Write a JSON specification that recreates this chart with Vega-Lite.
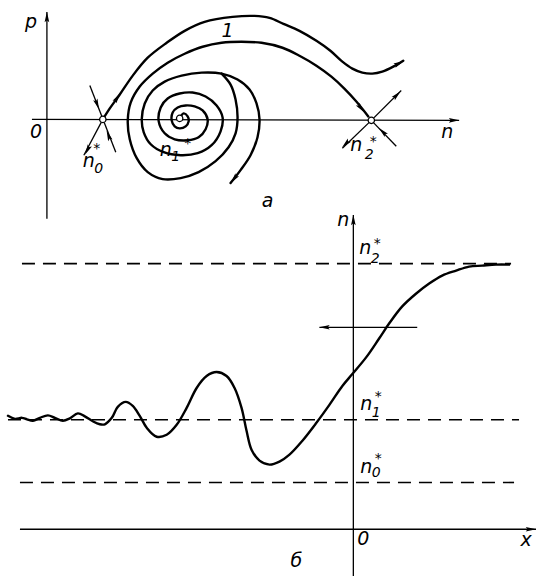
{
  "$schema": "https://vega.github.io/schema/vega-lite/v6.json",
  "width": 539,
  "height": 579,
  "autosize": {"type": "fit", "contains": "padding"},
  "padding": 0,
  "background": "white",
  "config": {"view": {"stroke": null}},
  "datasets": {
    "guides": [
      {"g": "p_axis", "i": 0, "x": 47, "y": 12}, {"g": "p_axis", "i": 1, "x": 47, "y": 220},
      {"g": "n_axis_top", "i": 0, "x": 32, "y": 120}, {"g": "n_axis_top", "i": 1, "x": 460, "y": 121},
      {"g": "n0_stable", "i": 0, "x": 90, "y": 86}, {"g": "n0_stable", "i": 1, "x": 116, "y": 153},
      {"g": "n0_out", "i": 0, "x": 103, "y": 120}, {"g": "n0_out", "i": 1, "x": 84, "y": 156},
      {"g": "n2_out_a", "i": 0, "x": 372, "y": 121}, {"g": "n2_out_a", "i": 1, "x": 402, "y": 91},
      {"g": "n2_out_b", "i": 0, "x": 372, "y": 121}, {"g": "n2_out_b", "i": 1, "x": 343, "y": 149},
      {"g": "n2_in", "i": 0, "x": 372, "y": 121}, {"g": "n2_in", "i": 1, "x": 397, "y": 147},
      {"g": "n_axis_bottom", "i": 0, "x": 354, "y": 216}, {"g": "n_axis_bottom", "i": 1, "x": 354, "y": 579},
      {"g": "x_axis", "i": 0, "x": 20, "y": 532}, {"g": "x_axis", "i": 1, "x": 537, "y": 532},
      {"g": "shift", "i": 0, "x": 320, "y": 329}, {"g": "shift", "i": 1, "x": 418, "y": 329}
    ],
    "levels": [
      {"g": "n2", "i": 0, "x": 22, "y": 265}, {"g": "n2", "i": 1, "x": 512, "y": 265},
      {"g": "n1", "i": 0, "x": 8, "y": 422}, {"g": "n1", "i": 1, "x": 520, "y": 422},
      {"g": "n0", "i": 0, "x": 20, "y": 485}, {"g": "n0", "i": 1, "x": 515, "y": 485}
    ],
    "paths": [
      {"g": "A", "i": 0, "x": 103, "y": 120}, {"g": "A", "i": 1, "x": 110, "y": 109},
      {"g": "A", "i": 2, "x": 120, "y": 95}, {"g": "A", "i": 3, "x": 133, "y": 76},
      {"g": "A", "i": 4, "x": 148, "y": 58}, {"g": "A", "i": 5, "x": 167, "y": 43},
      {"g": "A", "i": 6, "x": 185, "y": 31}, {"g": "A", "i": 7, "x": 205, "y": 22},
      {"g": "A", "i": 8, "x": 233, "y": 17}, {"g": "A", "i": 9, "x": 255, "y": 16},
      {"g": "A", "i": 10, "x": 270, "y": 18}, {"g": "A", "i": 11, "x": 284, "y": 24},
      {"g": "A", "i": 12, "x": 300, "y": 31}, {"g": "A", "i": 13, "x": 317, "y": 41},
      {"g": "A", "i": 14, "x": 331, "y": 51}, {"g": "A", "i": 15, "x": 343, "y": 62},
      {"g": "A", "i": 16, "x": 353, "y": 69}, {"g": "A", "i": 17, "x": 363, "y": 73},
      {"g": "A", "i": 18, "x": 373, "y": 74}, {"g": "A", "i": 19, "x": 383, "y": 72},
      {"g": "A", "i": 20, "x": 394, "y": 67}, {"g": "A", "i": 21, "x": 404, "y": 61},

      {"g": "S", "i": 0, "x": 180, "y": 119}, {"g": "S", "i": 1, "x": 184, "y": 114},
      {"g": "S", "i": 2, "x": 188, "y": 117}, {"g": "S", "i": 3, "x": 189, "y": 122},
      {"g": "S", "i": 4, "x": 186, "y": 127}, {"g": "S", "i": 5, "x": 180, "y": 129},
      {"g": "S", "i": 6, "x": 175, "y": 127}, {"g": "S", "i": 7, "x": 172, "y": 121},
      {"g": "S", "i": 8, "x": 173, "y": 113}, {"g": "S", "i": 9, "x": 178, "y": 108},
      {"g": "S", "i": 10, "x": 186, "y": 106}, {"g": "S", "i": 11, "x": 195, "y": 107},
      {"g": "S", "i": 12, "x": 203, "y": 111}, {"g": "S", "i": 13, "x": 208, "y": 120},
      {"g": "S", "i": 14, "x": 206, "y": 130}, {"g": "S", "i": 15, "x": 199, "y": 138},
      {"g": "S", "i": 16, "x": 188, "y": 141}, {"g": "S", "i": 17, "x": 175, "y": 140},
      {"g": "S", "i": 18, "x": 165, "y": 134}, {"g": "S", "i": 19, "x": 159, "y": 122},
      {"g": "S", "i": 20, "x": 161, "y": 108}, {"g": "S", "i": 21, "x": 168, "y": 99},
      {"g": "S", "i": 22, "x": 180, "y": 94}, {"g": "S", "i": 23, "x": 193, "y": 93},
      {"g": "S", "i": 24, "x": 206, "y": 97}, {"g": "S", "i": 25, "x": 217, "y": 106},
      {"g": "S", "i": 26, "x": 223, "y": 118}, {"g": "S", "i": 27, "x": 221, "y": 132},
      {"g": "S", "i": 28, "x": 212, "y": 146}, {"g": "S", "i": 29, "x": 198, "y": 154},
      {"g": "S", "i": 30, "x": 181, "y": 156}, {"g": "S", "i": 31, "x": 164, "y": 153},
      {"g": "S", "i": 32, "x": 151, "y": 145}, {"g": "S", "i": 33, "x": 144, "y": 133},
      {"g": "S", "i": 34, "x": 142, "y": 120}, {"g": "S", "i": 35, "x": 145, "y": 104},
      {"g": "S", "i": 36, "x": 153, "y": 91}, {"g": "S", "i": 37, "x": 165, "y": 82},
      {"g": "S", "i": 38, "x": 182, "y": 76}, {"g": "S", "i": 39, "x": 202, "y": 73},
      {"g": "S", "i": 40, "x": 222, "y": 74}, {"g": "S", "i": 41, "x": 238, "y": 80},
      {"g": "S", "i": 42, "x": 250, "y": 90}, {"g": "S", "i": 43, "x": 257, "y": 104},
      {"g": "S", "i": 44, "x": 260, "y": 120}, {"g": "S", "i": 45, "x": 258, "y": 138},
      {"g": "S", "i": 46, "x": 251, "y": 156}, {"g": "S", "i": 47, "x": 241, "y": 171},
      {"g": "S", "i": 48, "x": 231, "y": 184},

      {"g": "B", "i": 0, "x": 222, "y": 74}, {"g": "B", "i": 1, "x": 231, "y": 85},
      {"g": "B", "i": 2, "x": 236, "y": 100}, {"g": "B", "i": 3, "x": 238, "y": 118},
      {"g": "B", "i": 4, "x": 236, "y": 134}, {"g": "B", "i": 5, "x": 229, "y": 148},
      {"g": "B", "i": 6, "x": 216, "y": 162}, {"g": "B", "i": 7, "x": 199, "y": 173},
      {"g": "B", "i": 8, "x": 181, "y": 179}, {"g": "B", "i": 9, "x": 163, "y": 180},
      {"g": "B", "i": 10, "x": 148, "y": 173}, {"g": "B", "i": 11, "x": 137, "y": 159},
      {"g": "B", "i": 12, "x": 130, "y": 140}, {"g": "B", "i": 13, "x": 128, "y": 121},
      {"g": "B", "i": 14, "x": 131, "y": 103}, {"g": "B", "i": 15, "x": 140, "y": 87},
      {"g": "B", "i": 16, "x": 153, "y": 74}, {"g": "B", "i": 17, "x": 168, "y": 63},
      {"g": "B", "i": 18, "x": 185, "y": 54}, {"g": "B", "i": 19, "x": 203, "y": 47},
      {"g": "B", "i": 20, "x": 222, "y": 43}, {"g": "B", "i": 21, "x": 242, "y": 42},
      {"g": "B", "i": 22, "x": 262, "y": 43}, {"g": "B", "i": 23, "x": 283, "y": 48},
      {"g": "B", "i": 24, "x": 300, "y": 56}, {"g": "B", "i": 25, "x": 317, "y": 66},
      {"g": "B", "i": 26, "x": 332, "y": 77}, {"g": "B", "i": 27, "x": 345, "y": 89},
      {"g": "B", "i": 28, "x": 357, "y": 102}, {"g": "B", "i": 29, "x": 369, "y": 117},

      {"g": "N", "i": 0, "x": 8, "y": 418}, {"g": "N", "i": 1, "x": 15, "y": 421},
      {"g": "N", "i": 2, "x": 22, "y": 420}, {"g": "N", "i": 3, "x": 27, "y": 421.5},
      {"g": "N", "i": 4, "x": 33, "y": 423}, {"g": "N", "i": 5, "x": 40, "y": 420},
      {"g": "N", "i": 6, "x": 48, "y": 417.5}, {"g": "N", "i": 7, "x": 55, "y": 420},
      {"g": "N", "i": 8, "x": 63, "y": 423}, {"g": "N", "i": 9, "x": 70, "y": 420.5},
      {"g": "N", "i": 10, "x": 78, "y": 415.5}, {"g": "N", "i": 11, "x": 85, "y": 418.5},
      {"g": "N", "i": 12, "x": 93, "y": 423.5}, {"g": "N", "i": 13, "x": 100, "y": 426.5},
      {"g": "N", "i": 14, "x": 105, "y": 426.5}, {"g": "N", "i": 15, "x": 112, "y": 420},
      {"g": "N", "i": 16, "x": 118, "y": 409}, {"g": "N", "i": 17, "x": 126, "y": 404},
      {"g": "N", "i": 18, "x": 133, "y": 408}, {"g": "N", "i": 19, "x": 140, "y": 418},
      {"g": "N", "i": 20, "x": 147, "y": 430}, {"g": "N", "i": 21, "x": 157, "y": 439},
      {"g": "N", "i": 22, "x": 167, "y": 437}, {"g": "N", "i": 23, "x": 177, "y": 427},
      {"g": "N", "i": 24, "x": 187, "y": 410}, {"g": "N", "i": 25, "x": 197, "y": 390},
      {"g": "N", "i": 26, "x": 207, "y": 378}, {"g": "N", "i": 27, "x": 217, "y": 374},
      {"g": "N", "i": 28, "x": 227, "y": 378}, {"g": "N", "i": 29, "x": 235, "y": 390},
      {"g": "N", "i": 30, "x": 242, "y": 410}, {"g": "N", "i": 31, "x": 247, "y": 433},
      {"g": "N", "i": 32, "x": 252, "y": 452}, {"g": "N", "i": 33, "x": 260, "y": 463},
      {"g": "N", "i": 34, "x": 270, "y": 467}, {"g": "N", "i": 35, "x": 280, "y": 464},
      {"g": "N", "i": 36, "x": 290, "y": 457}, {"g": "N", "i": 37, "x": 303, "y": 443},
      {"g": "N", "i": 38, "x": 317, "y": 425}, {"g": "N", "i": 39, "x": 330, "y": 407},
      {"g": "N", "i": 40, "x": 343, "y": 388}, {"g": "N", "i": 41, "x": 353, "y": 376},
      {"g": "N", "i": 42, "x": 367, "y": 359}, {"g": "N", "i": 43, "x": 380, "y": 340},
      {"g": "N", "i": 44, "x": 390, "y": 325}, {"g": "N", "i": 45, "x": 403, "y": 308},
      {"g": "N", "i": 46, "x": 417, "y": 295}, {"g": "N", "i": 47, "x": 430, "y": 285},
      {"g": "N", "i": 48, "x": 443, "y": 277}, {"g": "N", "i": 49, "x": 457, "y": 272},
      {"g": "N", "i": 50, "x": 470, "y": 268}, {"g": "N", "i": 51, "x": 483, "y": 267},
      {"g": "N", "i": 52, "x": 497, "y": 266}, {"g": "N", "i": 53, "x": 510, "y": 266}
    ],
    "arrows": [
      {"x": 47, "y": 18, "dir": 0},
      {"x": 454, "y": 121, "dir": 90},
      {"x": 97, "y": 104, "dir": 159},
      {"x": 109, "y": 137, "dir": 339},
      {"x": 88, "y": 150, "dir": 208},
      {"x": 117, "y": 99, "dir": 33},
      {"x": 399, "y": 64, "dir": 63},
      {"x": 361, "y": 108, "dir": 142},
      {"x": 397, "y": 96, "dir": 45},
      {"x": 347, "y": 144, "dir": 225},
      {"x": 384, "y": 133, "dir": 315},
      {"x": 235, "y": 179, "dir": 218},
      {"x": 354, "y": 222, "dir": 0},
      {"x": 531, "y": 532, "dir": 90},
      {"x": 326, "y": 329, "dir": 270}
    ],
    "nodes": [
      {"x": 103, "y": 120}, {"x": 372, "y": 121}, {"x": 180, "y": 119}
    ],
    "labels": [
      {"x": 31, "y": 28, "t": "p"},
      {"x": 36, "y": 139, "t": "0"},
      {"x": 448, "y": 139, "t": "n"},
      {"x": 228, "y": 37, "t": "1"},
      {"x": 268, "y": 208, "t": "а"},
      {"x": 89, "y": 168, "t": "n"},
      {"x": 166, "y": 157, "t": "n"},
      {"x": 357, "y": 152, "t": "n"},
      {"x": 344, "y": 227, "t": "n"},
      {"x": 366, "y": 255, "t": "n"},
      {"x": 367, "y": 412, "t": "n"},
      {"x": 367, "y": 475, "t": "n"},
      {"x": 364, "y": 548, "t": "0"},
      {"x": 527, "y": 549, "t": "x"},
      {"x": 297, "y": 570, "t": "б"}
    ],
    "marks_small": [
      {"x": 99, "y": 174, "t": "0"}, {"x": 97, "y": 154, "t": "*"},
      {"x": 176, "y": 162, "t": "1"}, {"x": 188, "y": 149, "t": "*"},
      {"x": 370, "y": 160, "t": "2"}, {"x": 374, "y": 147, "t": "*"},
      {"x": 376, "y": 264, "t": "2"}, {"x": 378, "y": 249, "t": "*"},
      {"x": 377, "y": 419, "t": "1"}, {"x": 379, "y": 403, "t": "*"},
      {"x": 377, "y": 479, "t": "0"}, {"x": 379, "y": 465, "t": "*"}
    ]
  },
  "layer": [
    {
      "data": {"name": "guides"},
      "mark": {"type": "line", "color": "black", "strokeWidth": 1.3},
      "encoding": {
        "x": {"field": "x", "type": "quantitative", "scale": {"domain": [0, 539], "nice": false, "zero": false}, "axis": null},
        "y": {"field": "y", "type": "quantitative", "scale": {"domain": [0, 579], "nice": false, "zero": false, "reverse": true}, "axis": null},
        "detail": {"field": "g"},
        "order": {"field": "i"}
      }
    },
    {
      "data": {"name": "levels"},
      "mark": {"type": "line", "color": "black", "strokeWidth": 1.6, "strokeDash": [13, 8]},
      "encoding": {
        "x": {"field": "x", "type": "quantitative"},
        "y": {"field": "y", "type": "quantitative"},
        "detail": {"field": "g"},
        "order": {"field": "i"}
      }
    },
    {
      "data": {"name": "paths"},
      "mark": {"type": "line", "color": "black", "strokeWidth": 2.4, "interpolate": "catmull-rom", "strokeCap": "round", "strokeJoin": "round"},
      "encoding": {
        "x": {"field": "x", "type": "quantitative"},
        "y": {"field": "y", "type": "quantitative"},
        "detail": {"field": "g"},
        "order": {"field": "i"}
      }
    },
    {
      "data": {"name": "arrows"},
      "mark": {"type": "point", "shape": "M0,-1L0.38,0.7L0,0.4L-0.38,0.7Z", "filled": true, "color": "black", "opacity": 1, "size": 150, "strokeWidth": 0},
      "encoding": {
        "x": {"field": "x", "type": "quantitative"},
        "y": {"field": "y", "type": "quantitative"},
        "angle": {"field": "dir", "type": "quantitative", "scale": null}
      }
    },
    {
      "data": {"name": "nodes"},
      "mark": {"type": "point", "shape": "circle", "filled": true, "fill": "white", "stroke": "black", "strokeWidth": 1.3, "opacity": 1, "size": 40},
      "encoding": {
        "x": {"field": "x", "type": "quantitative"},
        "y": {"field": "y", "type": "quantitative"}
      }
    },
    {
      "data": {"name": "labels"},
      "mark": {"type": "text", "font": "DejaVu Sans", "fontStyle": "italic", "fontSize": 19, "align": "center", "baseline": "alphabetic", "color": "black"},
      "encoding": {
        "x": {"field": "x", "type": "quantitative"},
        "y": {"field": "y", "type": "quantitative"},
        "text": {"field": "t"}
      }
    },
    {
      "data": {"name": "marks_small"},
      "mark": {"type": "text", "font": "DejaVu Sans", "fontStyle": "italic", "fontSize": 14, "align": "center", "baseline": "alphabetic", "color": "black"},
      "encoding": {
        "x": {"field": "x", "type": "quantitative"},
        "y": {"field": "y", "type": "quantitative"},
        "text": {"field": "t"}
      }
    }
  ]
}
